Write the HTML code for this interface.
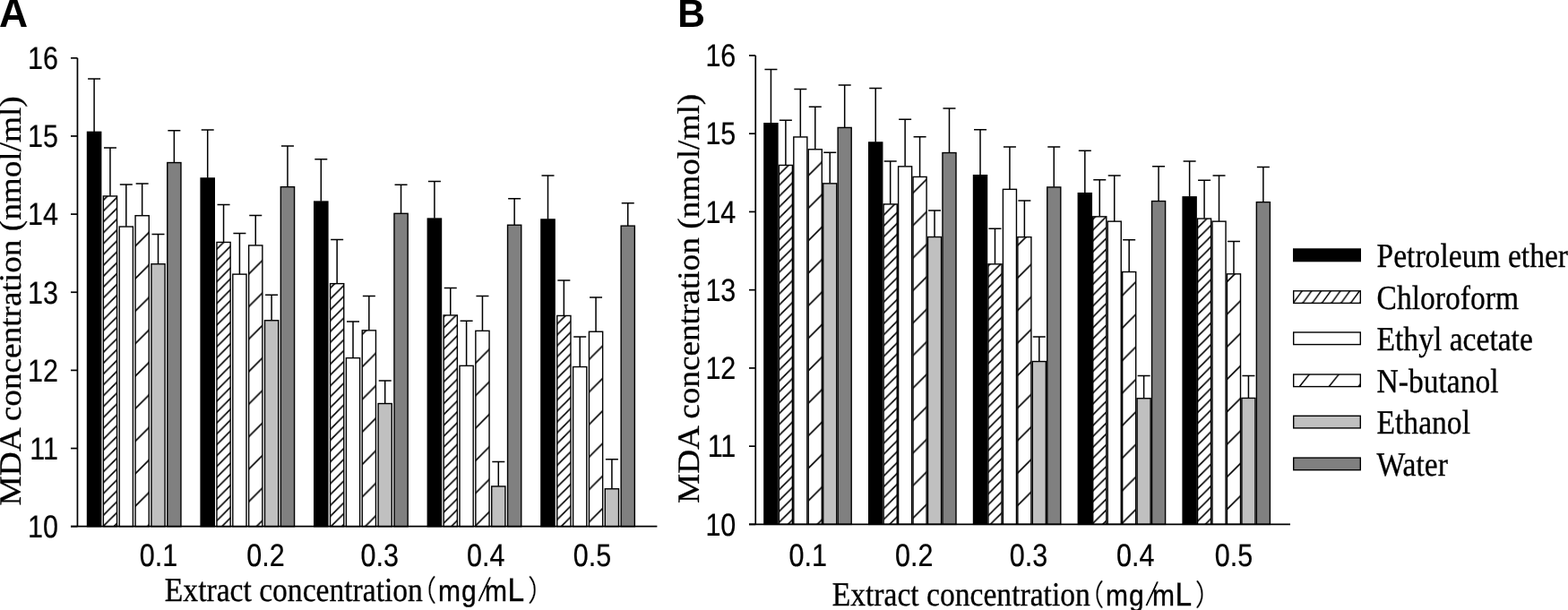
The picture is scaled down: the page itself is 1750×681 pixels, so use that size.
<!DOCTYPE html>
<html><head><meta charset="utf-8"><title>MDA concentration</title><style>
html,body{margin:0;padding:0;background:#fff;}
svg{display:block;}
text{text-rendering:geometricPrecision;}
.e{stroke:#000;stroke-width:1.5;fill:none;}
.b{stroke:#000;stroke-width:1.4;}
.a{stroke:#000;stroke-width:1.7;fill:none;}
.n{font-family:"Liberation Sans",Arial,sans-serif;font-size:30.5px;fill:#000;stroke:#000;stroke-width:0.2px;}
.L{font-family:"Liberation Sans",Arial,sans-serif;font-weight:bold;font-size:42px;fill:#000;}
.t{font-family:"Liberation Serif","Times New Roman",serif;font-size:33.6px;fill:#000;stroke:#000;stroke-width:0.3px;}
.c{font-family:"Liberation Sans","Noto Sans CJK JP",sans-serif;font-size:30px;fill:#000;}
</style></head>
<body><svg width="1750" height="681" viewBox="0 0 1750 681">
<rect width="1750" height="681" fill="#fff"/>
<defs>
<pattern id="hd0" patternUnits="userSpaceOnUse" width="12.13" height="12.13" patternTransform="translate(11.3 0)"><path d="M-1 1L1 -1M0 12.13L12.13 0M11.13 13.13L13.13 11.13" stroke="#000" stroke-width="1.6"/></pattern><pattern id="hd1" patternUnits="userSpaceOnUse" width="12.13" height="12.13" patternTransform="translate(10.6 0)"><path d="M-1 1L1 -1M0 12.13L12.13 0M11.13 13.13L13.13 11.13" stroke="#000" stroke-width="1.6"/></pattern><pattern id="hd2" patternUnits="userSpaceOnUse" width="12.13" height="12.13" patternTransform="translate(11.0 0)"><path d="M-1 1L1 -1M0 12.13L12.13 0M11.13 13.13L13.13 11.13" stroke="#000" stroke-width="1.6"/></pattern><pattern id="hd3" patternUnits="userSpaceOnUse" width="12.13" height="12.13" patternTransform="translate(11.9 0)"><path d="M-1 1L1 -1M0 12.13L12.13 0M11.13 13.13L13.13 11.13" stroke="#000" stroke-width="1.6"/></pattern><pattern id="hd4" patternUnits="userSpaceOnUse" width="12.13" height="12.13" patternTransform="translate(13.2 0)"><path d="M-1 1L1 -1M0 12.13L12.13 0M11.13 13.13L13.13 11.13" stroke="#000" stroke-width="1.6"/></pattern><pattern id="hd5" patternUnits="userSpaceOnUse" width="12.13" height="12.13" patternTransform="translate(9.2 0)"><path d="M-1 1L1 -1M0 12.13L12.13 0M11.13 13.13L13.13 11.13" stroke="#000" stroke-width="1.6"/></pattern><pattern id="hd6" patternUnits="userSpaceOnUse" width="12.13" height="12.13" patternTransform="translate(13.5 0)"><path d="M-1 1L1 -1M0 12.13L12.13 0M11.13 13.13L13.13 11.13" stroke="#000" stroke-width="1.6"/></pattern><pattern id="hd7" patternUnits="userSpaceOnUse" width="12.13" height="12.13" patternTransform="translate(16.75 0)"><path d="M-1 1L1 -1M0 12.13L12.13 0M11.13 13.13L13.13 11.13" stroke="#000" stroke-width="1.6"/></pattern><pattern id="hd8" patternUnits="userSpaceOnUse" width="12.13" height="12.13" patternTransform="translate(8.8 0)"><path d="M-1 1L1 -1M0 12.13L12.13 0M11.13 13.13L13.13 11.13" stroke="#000" stroke-width="1.6"/></pattern><pattern id="hd9" patternUnits="userSpaceOnUse" width="12.13" height="12.13" patternTransform="translate(14.1 0)"><path d="M-1 1L1 -1M0 12.13L12.13 0M11.13 13.13L13.13 11.13" stroke="#000" stroke-width="1.6"/></pattern><pattern id="hs0" patternUnits="userSpaceOnUse" width="36.3" height="36.3" patternTransform="translate(26.4 0)"><path d="M-1 1L1 -1M0 36.3L36.3 0M35.3 37.3L37.3 35.3" stroke="#000" stroke-width="1.6"/></pattern><pattern id="hs1" patternUnits="userSpaceOnUse" width="36.3" height="36.3" patternTransform="translate(2.8 0)"><path d="M-1 1L1 -1M0 36.3L36.3 0M35.3 37.3L37.3 35.3" stroke="#000" stroke-width="1.6"/></pattern><pattern id="hs2" patternUnits="userSpaceOnUse" width="36.3" height="36.3" patternTransform="translate(15.2 0)"><path d="M-1 1L1 -1M0 36.3L36.3 0M35.3 37.3L37.3 35.3" stroke="#000" stroke-width="1.6"/></pattern><pattern id="hs3" patternUnits="userSpaceOnUse" width="36.3" height="36.3" patternTransform="translate(28.6 0)"><path d="M-1 1L1 -1M0 36.3L36.3 0M35.3 37.3L37.3 35.3" stroke="#000" stroke-width="1.6"/></pattern><pattern id="hs4" patternUnits="userSpaceOnUse" width="36.3" height="36.3" patternTransform="translate(6.1 0)"><path d="M-1 1L1 -1M0 36.3L36.3 0M35.3 37.3L37.3 35.3" stroke="#000" stroke-width="1.6"/></pattern><pattern id="hs5" patternUnits="userSpaceOnUse" width="36.3" height="36.3" patternTransform="translate(9.2 0)"><path d="M-1 1L1 -1M0 36.3L36.3 0M35.3 37.3L37.3 35.3" stroke="#000" stroke-width="1.6"/></pattern><pattern id="hs6" patternUnits="userSpaceOnUse" width="36.3" height="36.3" patternTransform="translate(0.2 0)"><path d="M-1 1L1 -1M0 36.3L36.3 0M35.3 37.3L37.3 35.3" stroke="#000" stroke-width="1.6"/></pattern><pattern id="hs7" patternUnits="userSpaceOnUse" width="36.3" height="36.3" patternTransform="translate(30.3 0)"><path d="M-1 1L1 -1M0 36.3L36.3 0M35.3 37.3L37.3 35.3" stroke="#000" stroke-width="1.6"/></pattern><pattern id="hs8" patternUnits="userSpaceOnUse" width="36.3" height="36.3" patternTransform="translate(21.5 0)"><path d="M-1 1L1 -1M0 36.3L36.3 0M35.3 37.3L37.3 35.3" stroke="#000" stroke-width="1.6"/></pattern><pattern id="hs9" patternUnits="userSpaceOnUse" width="36.3" height="36.3" patternTransform="translate(14.2 0)"><path d="M-1 1L1 -1M0 36.3L36.3 0M35.3 37.3L37.3 35.3" stroke="#000" stroke-width="1.6"/></pattern>
<pattern id="hdl" patternUnits="userSpaceOnUse" width="10.7" height="14.6" x="1443" y="324.1">
<path d="M-1.5 1.5L1.5 -1.5M0 14.6L10.7 0M9.2 16.1L12.2 12.1" stroke="#000" stroke-width="1.5"/>
</pattern>
<pattern id="hsl" patternUnits="userSpaceOnUse" width="32.9" height="14.7" x="1450" y="417.3">
<path d="M0 14.7L11.8 0" stroke="#000" stroke-width="1.5"/>
</pattern>
</defs>
<path d="M105.1 147.1V88.1M98.1 88.1H112.1" class="e"/>
<rect x="97.5" y="147.35" width="15.2" height="440.35" fill="#000" class="b"/>
<path d="M122.95 218.7V164.9M115.95 164.9H129.95" class="e"/>
<rect x="115.35" y="218.95" width="15.2" height="368.75" fill="url(#hd0)" class="b"/>
<path d="M140.8 252.8V206M133.8 206H147.8" class="e"/>
<rect x="133.2" y="253.05" width="15.2" height="334.65" fill="#fff" class="b"/>
<path d="M158.65 240.5V204.9M151.65 204.9H165.65" class="e"/>
<rect x="151.05" y="240.75" width="15.2" height="346.95" fill="url(#hs0)" class="b"/>
<path d="M176.5 294.5V261.4M169.5 261.4H183.5" class="e"/>
<rect x="168.9" y="294.75" width="15.2" height="292.95" fill="#c0c0c0" class="b"/>
<path d="M194.35 181.3V145.7M187.35 145.7H201.35" class="e"/>
<rect x="186.75" y="181.55" width="15.2" height="406.15" fill="#808080" class="b"/>
<path d="M231.7 198.7V145M224.7 145H238.7" class="e"/>
<rect x="224.1" y="198.95" width="15.2" height="388.75" fill="#000" class="b"/>
<path d="M249.55 270.2V228.4M242.55 228.4H256.55" class="e"/>
<rect x="241.95" y="270.45" width="15.2" height="317.25" fill="url(#hd1)" class="b"/>
<path d="M267.4 305.9V260.4M260.4 260.4H274.4" class="e"/>
<rect x="259.8" y="306.15" width="15.2" height="281.55" fill="#fff" class="b"/>
<path d="M285.25 273.7V240.5M278.25 240.5H292.25" class="e"/>
<rect x="277.65" y="273.95" width="15.2" height="313.75" fill="url(#hs1)" class="b"/>
<path d="M303.1 357.5V329.2M296.1 329.2H310.1" class="e"/>
<rect x="295.5" y="357.75" width="15.2" height="229.95" fill="#c0c0c0" class="b"/>
<path d="M320.95 208.4V163.1M313.95 163.1H327.95" class="e"/>
<rect x="313.35" y="208.65" width="15.2" height="379.05" fill="#808080" class="b"/>
<path d="M358.3 224.8V177.8M351.3 177.8H365.3" class="e"/>
<rect x="350.7" y="225.05" width="15.2" height="362.65" fill="#000" class="b"/>
<path d="M376.15 316.4V267.4M369.15 267.4H383.15" class="e"/>
<rect x="368.55" y="316.65" width="15.2" height="271.05" fill="url(#hd2)" class="b"/>
<path d="M394 399.4V359M387 359H401" class="e"/>
<rect x="386.4" y="399.65" width="15.2" height="188.05" fill="#fff" class="b"/>
<path d="M411.85 368.6V330.6M404.85 330.6H418.85" class="e"/>
<rect x="404.25" y="368.85" width="15.2" height="218.85" fill="url(#hs2)" class="b"/>
<path d="M429.7 450.3V425M422.7 425H436.7" class="e"/>
<rect x="422.1" y="450.55" width="15.2" height="137.15" fill="#c0c0c0" class="b"/>
<path d="M447.55 238.1V206.2M440.55 206.2H454.55" class="e"/>
<rect x="439.95" y="238.35" width="15.2" height="349.35" fill="#808080" class="b"/>
<path d="M484.9 243.8V202.4M477.9 202.4H491.9" class="e"/>
<rect x="477.3" y="244.05" width="15.2" height="343.65" fill="#000" class="b"/>
<path d="M502.75 351.7V321.6M495.75 321.6H509.75" class="e"/>
<rect x="495.15" y="351.95" width="15.2" height="235.75" fill="url(#hd3)" class="b"/>
<path d="M520.6 408.1V358.3M513.6 358.3H527.6" class="e"/>
<rect x="513" y="408.35" width="15.2" height="179.35" fill="#fff" class="b"/>
<path d="M538.45 369.1V330.5M531.45 330.5H545.45" class="e"/>
<rect x="530.85" y="369.35" width="15.2" height="218.35" fill="url(#hs3)" class="b"/>
<path d="M556.3 542.7V515.5M549.3 515.5H563.3" class="e"/>
<rect x="548.7" y="542.95" width="15.2" height="44.75" fill="#c0c0c0" class="b"/>
<path d="M574.15 251V221.8M567.15 221.8H581.15" class="e"/>
<rect x="566.55" y="251.25" width="15.2" height="336.45" fill="#808080" class="b"/>
<path d="M611.5 244.7V196M604.5 196H618.5" class="e"/>
<rect x="603.9" y="244.95" width="15.2" height="342.75" fill="#000" class="b"/>
<path d="M629.35 352.2V313M622.35 313H636.35" class="e"/>
<rect x="621.75" y="352.45" width="15.2" height="235.25" fill="url(#hd4)" class="b"/>
<path d="M647.2 409.3V375.9M640.2 375.9H654.2" class="e"/>
<rect x="639.6" y="409.55" width="15.2" height="178.15" fill="#fff" class="b"/>
<path d="M665.05 370V332.1M658.05 332.1H672.05" class="e"/>
<rect x="657.45" y="370.25" width="15.2" height="217.45" fill="url(#hs4)" class="b"/>
<path d="M682.9 545.5V512.8M675.9 512.8H689.9" class="e"/>
<rect x="675.3" y="545.75" width="15.2" height="41.95" fill="#c0c0c0" class="b"/>
<path d="M700.75 251.9V226.7M693.75 226.7H707.75" class="e"/>
<rect x="693.15" y="252.15" width="15.2" height="335.55" fill="#808080" class="b"/>
<path d="M860.43 137.5V77.6M853.43 77.6H867.43" class="e"/>
<rect x="852.9" y="137.75" width="15.05" height="447.65" fill="#000" class="b"/>
<path d="M876.88 184.2V134.3M869.88 134.3H883.88" class="e"/>
<rect x="869.35" y="184.45" width="15.05" height="400.95" fill="url(#hd5)" class="b"/>
<path d="M893.33 152.7V99.4M886.33 99.4H900.33" class="e"/>
<rect x="885.8" y="152.95" width="15.05" height="432.45" fill="#fff" class="b"/>
<path d="M909.78 166.5V119.3M902.78 119.3H916.78" class="e"/>
<rect x="902.25" y="166.75" width="15.05" height="418.65" fill="url(#hs5)" class="b"/>
<path d="M926.23 204.6V170.2M919.23 170.2H933.23" class="e"/>
<rect x="918.7" y="204.85" width="15.05" height="380.55" fill="#c0c0c0" class="b"/>
<path d="M942.68 142.2V95M935.68 95H949.68" class="e"/>
<rect x="935.15" y="142.45" width="15.05" height="442.95" fill="#808080" class="b"/>
<path d="M977.23 158.7V98.4M970.23 98.4H984.23" class="e"/>
<rect x="969.7" y="158.95" width="15.05" height="426.45" fill="#000" class="b"/>
<path d="M993.68 227.7V180.1M986.68 180.1H1000.68" class="e"/>
<rect x="986.15" y="227.95" width="15.05" height="357.45" fill="url(#hd6)" class="b"/>
<path d="M1010.12 185.6V133.3M1003.12 133.3H1017.12" class="e"/>
<rect x="1002.6" y="185.85" width="15.05" height="399.55" fill="#fff" class="b"/>
<path d="M1026.58 197.2V152.7M1019.58 152.7H1033.58" class="e"/>
<rect x="1019.05" y="197.45" width="15.05" height="387.95" fill="url(#hs6)" class="b"/>
<path d="M1043.02 264.3V234.9M1036.02 234.9H1050.02" class="e"/>
<rect x="1035.5" y="264.55" width="15.05" height="320.85" fill="#c0c0c0" class="b"/>
<path d="M1059.47 170.3V121M1052.47 121H1066.47" class="e"/>
<rect x="1051.95" y="170.55" width="15.05" height="414.85" fill="#808080" class="b"/>
<path d="M1094.02 195.4V144.7M1087.02 144.7H1101.02" class="e"/>
<rect x="1086.5" y="195.65" width="15.05" height="389.75" fill="#000" class="b"/>
<path d="M1110.47 294.6V255.2M1103.47 255.2H1117.47" class="e"/>
<rect x="1102.95" y="294.85" width="15.05" height="290.55" fill="url(#hd7)" class="b"/>
<path d="M1126.92 211.1V164.1M1119.92 164.1H1133.92" class="e"/>
<rect x="1119.4" y="211.35" width="15.05" height="374.05" fill="#fff" class="b"/>
<path d="M1143.37 264.4V224M1136.37 224H1150.37" class="e"/>
<rect x="1135.85" y="264.65" width="15.05" height="320.75" fill="url(#hs7)" class="b"/>
<path d="M1159.82 403.3V376.1M1152.82 376.1H1166.82" class="e"/>
<rect x="1152.3" y="403.55" width="15.05" height="181.85" fill="#c0c0c0" class="b"/>
<path d="M1176.27 208.7V164.1M1169.27 164.1H1183.27" class="e"/>
<rect x="1168.75" y="208.95" width="15.05" height="376.45" fill="#808080" class="b"/>
<path d="M1210.82 215.4V168.2M1203.82 168.2H1217.82" class="e"/>
<rect x="1203.3" y="215.65" width="15.05" height="369.75" fill="#000" class="b"/>
<path d="M1227.27 241.6V200.7M1220.27 200.7H1234.27" class="e"/>
<rect x="1219.75" y="241.85" width="15.05" height="343.55" fill="url(#hd8)" class="b"/>
<path d="M1243.72 246.9V195.9M1236.72 195.9H1250.72" class="e"/>
<rect x="1236.2" y="247.15" width="15.05" height="338.25" fill="#fff" class="b"/>
<path d="M1260.17 303.3V267.8M1253.17 267.8H1267.17" class="e"/>
<rect x="1252.65" y="303.55" width="15.05" height="281.85" fill="url(#hs8)" class="b"/>
<path d="M1276.62 444.5V419.6M1269.62 419.6H1283.62" class="e"/>
<rect x="1269.1" y="444.75" width="15.05" height="140.65" fill="#c0c0c0" class="b"/>
<path d="M1293.07 224.3V185.8M1286.07 185.8H1300.07" class="e"/>
<rect x="1285.55" y="224.55" width="15.05" height="360.85" fill="#808080" class="b"/>
<path d="M1327.62 219.6V179.9M1320.62 179.9H1334.62" class="e"/>
<rect x="1320.1" y="219.85" width="15.05" height="365.55" fill="#000" class="b"/>
<path d="M1344.08 243.8V201.3M1337.08 201.3H1351.08" class="e"/>
<rect x="1336.55" y="244.05" width="15.05" height="341.35" fill="url(#hd9)" class="b"/>
<path d="M1360.53 246.9V196M1353.53 196H1367.53" class="e"/>
<rect x="1353" y="247.15" width="15.05" height="338.25" fill="#fff" class="b"/>
<path d="M1376.97 305.6V269.4M1369.97 269.4H1383.97" class="e"/>
<rect x="1369.45" y="305.85" width="15.05" height="279.55" fill="url(#hs9)" class="b"/>
<path d="M1393.42 444.2V419.6M1386.42 419.6H1400.42" class="e"/>
<rect x="1385.9" y="444.45" width="15.05" height="140.95" fill="#c0c0c0" class="b"/>
<path d="M1409.88 225.4V186.6M1402.88 186.6H1416.88" class="e"/>
<rect x="1402.35" y="225.65" width="15.05" height="359.75" fill="#808080" class="b"/>
<path d="M86.45 64.8V587.7" class="a"/>
<path d="M79 587.7H733.4" class="a"/>
<path d="M79 587.7H86.45" class="a"/>
<path d="M79 500.55H86.45" class="a"/>
<path d="M79 413.4H86.45" class="a"/>
<path d="M79 326.25H86.45" class="a"/>
<path d="M79 239.1H86.45" class="a"/>
<path d="M79 151.95H86.45" class="a"/>
<path d="M79 64.8H86.45" class="a"/>
<path d="M843.25 62V585.4" class="a"/>
<path d="M836 585.4H1440" class="a"/>
<path d="M836 585.4H843.25" class="a"/>
<path d="M836 498.16H843.25" class="a"/>
<path d="M836 410.92H843.25" class="a"/>
<path d="M836 323.68H843.25" class="a"/>
<path d="M836 236.44H843.25" class="a"/>
<path d="M836 149.2H843.25" class="a"/>
<path d="M836 61.96H843.25" class="a"/>
<rect x="1443.7" y="278" width="74.6" height="13.6" fill="#000" class="b"/>
<rect x="1443.7" y="324.8" width="74.6" height="13.6" fill="url(#hdl)" class="b"/>
<rect x="1443.7" y="371" width="74.6" height="13.6" fill="#fff" class="b"/>
<rect x="1443.7" y="418" width="74.6" height="13.6" fill="url(#hsl)" class="b"/>
<rect x="1443.7" y="464.3" width="74.6" height="13.6" fill="#c0c0c0" class="b"/>
<rect x="1443.7" y="511.1" width="74.6" height="13.6" fill="#808080" class="b"/>
<text x="0" y="0" transform="translate(65.04 599.97) scale(1 1.16)" text-anchor="end" class="n">10</text>
<text x="0" y="0" transform="translate(821.34 597.67) scale(1 1.16)" text-anchor="end" class="n">10</text>
<text x="0" y="0" transform="translate(65.04 512.82) scale(1 1.16)" text-anchor="end" class="n">11</text>
<text x="0" y="0" transform="translate(821.34 510.43) scale(1 1.16)" text-anchor="end" class="n">11</text>
<text x="0" y="0" transform="translate(65.04 425.67) scale(1 1.16)" text-anchor="end" class="n">12</text>
<text x="0" y="0" transform="translate(821.34 423.19) scale(1 1.16)" text-anchor="end" class="n">12</text>
<text x="0" y="0" transform="translate(65.04 338.52) scale(1 1.16)" text-anchor="end" class="n">13</text>
<text x="0" y="0" transform="translate(821.34 335.95) scale(1 1.16)" text-anchor="end" class="n">13</text>
<text x="0" y="0" transform="translate(65.04 251.37) scale(1 1.16)" text-anchor="end" class="n">14</text>
<text x="0" y="0" transform="translate(821.34 248.71) scale(1 1.16)" text-anchor="end" class="n">14</text>
<text x="0" y="0" transform="translate(65.04 164.22) scale(1 1.16)" text-anchor="end" class="n">15</text>
<text x="0" y="0" transform="translate(821.34 161.47) scale(1 1.16)" text-anchor="end" class="n">15</text>
<text x="0" y="0" transform="translate(65.04 77.07) scale(1 1.16)" text-anchor="end" class="n">16</text>
<text x="0" y="0" transform="translate(821.34 74.23) scale(1 1.16)" text-anchor="end" class="n">16</text>
<text x="0" y="0" transform="translate(155.81 632.05) scale(1 1.16)" class="n">0.1</text>
<text x="0" y="0" transform="translate(275.21 632.05) scale(1 1.16)" class="n">0.2</text>
<text x="0" y="0" transform="translate(402.51 632.05) scale(1 1.16)" class="n">0.3</text>
<text x="0" y="0" transform="translate(521.01 632.05) scale(1 1.16)" class="n">0.4</text>
<text x="0" y="0" transform="translate(639.81 632.05) scale(1 1.16)" class="n">0.5</text>
<text x="0" y="0" transform="translate(880.51 632.05) scale(1 1.16)" class="n">0.1</text>
<text x="0" y="0" transform="translate(999.11 632.05) scale(1 1.16)" class="n">0.2</text>
<text x="0" y="0" transform="translate(1126.81 632.05) scale(1 1.16)" class="n">0.3</text>
<text x="0" y="0" transform="translate(1246.01 632.05) scale(1 1.16)" class="n">0.4</text>
<text x="0" y="0" transform="translate(1355.71 632.05) scale(1 1.16)" class="n">0.5</text>
<text transform="translate(-1.11 29.7) scale(1 1.03)" class="L" style="font-size:44.5px">A</text>
<text transform="translate(756.25 29.7) scale(1 1.035)" class="L" style="font-size:42.5px">B</text>
<text transform="translate(23.3 564.38) scale(1 1.077) rotate(-90)" class="t" style="font-size:34.6px">MDA concentration (nmol/ml)</text>
<text transform="translate(780.2 561.98) scale(1 1.077) rotate(-90)" class="t" style="font-size:34.6px">MDA concentration (nmol/ml)</text>
<text transform="translate(183.83 670.8) scale(1 1.125)" class="t">Extract concentration</text><text transform="translate(0 670.5) scale(1 1.1)" class="c"><tspan x="457.55" style="stroke:#fff;stroke-width:0.25px">（</tspan><tspan x="489.02 515.04" style="stroke:#000;stroke-width:0.35px">mg</tspan><tspan x="532.8" y="0.4" rotate="12" style="font-size:37.5px;stroke:#fff;stroke-width:1px">/</tspan><tspan x="541.02" y="0" style="stroke:#000;stroke-width:0.35px">m</tspan><tspan x="566.55" style="font-size:33.5px;stroke:#000;stroke-width:0.35px">L</tspan><tspan x="588.72" style="stroke:#fff;stroke-width:0.25px">）</tspan></text>
<text transform="translate(928.73 675.9) scale(1 1.125)" class="t">Extract concentration</text><text transform="translate(0 675.6) scale(1 1.1)" class="c"><tspan x="1202.45" style="stroke:#fff;stroke-width:0.25px">（</tspan><tspan x="1233.92 1259.94" style="stroke:#000;stroke-width:0.35px">mg</tspan><tspan x="1277.7" y="0.4" rotate="12" style="font-size:37.5px;stroke:#fff;stroke-width:1px">/</tspan><tspan x="1285.92" y="0" style="stroke:#000;stroke-width:0.35px">m</tspan><tspan x="1311.45" style="font-size:33.5px;stroke:#000;stroke-width:0.35px">L</tspan><tspan x="1333.62" style="stroke:#fff;stroke-width:0.25px">）</tspan></text>
<text transform="translate(1536.53 298.3) scale(1 1.125)" class="t">Petroleum ether</text>
<text transform="translate(1536.53 344.75) scale(1 1.125)" class="t">Chloroform</text>
<text transform="translate(1536.53 391.2) scale(1 1.125)" class="t">Ethyl acetate</text>
<text transform="translate(1536.53 437.65) scale(1 1.125)" class="t">N-butanol</text>
<text transform="translate(1536.53 484.1) scale(1 1.125)" class="t">Ethanol</text>
<text transform="translate(1536.53 530.55) scale(1 1.125)" class="t">Water</text>
</svg></body></html>
